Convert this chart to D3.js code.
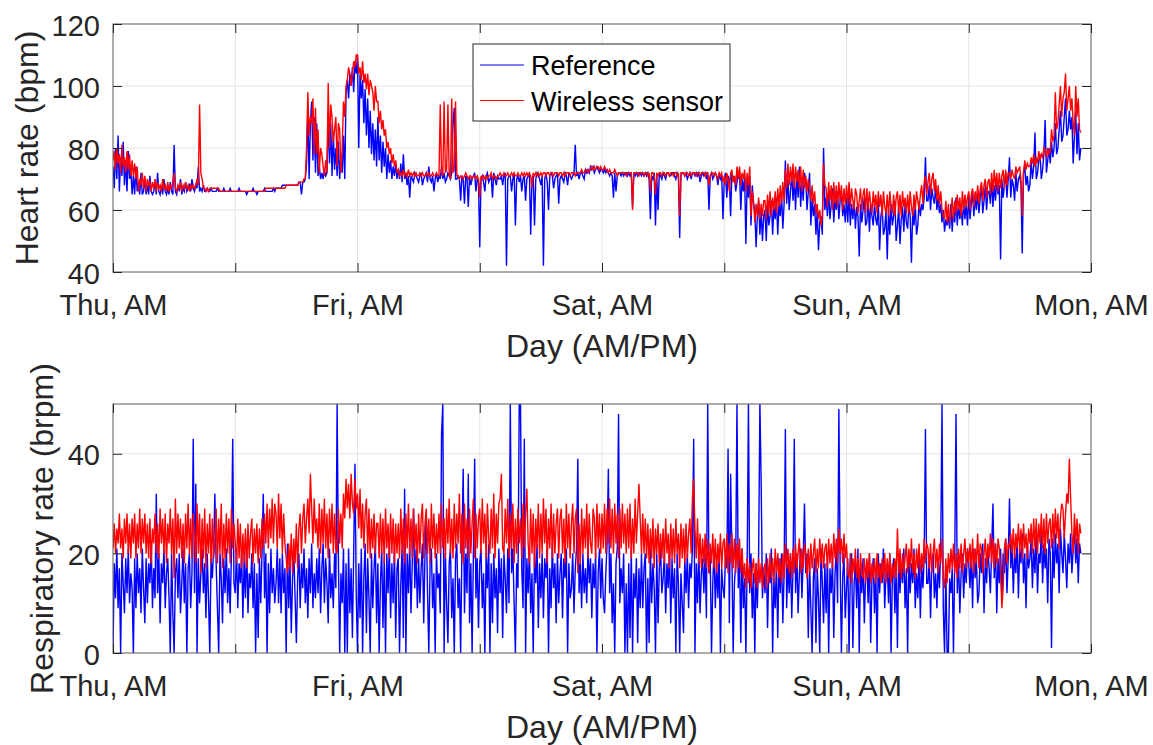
<!DOCTYPE html>
<html>
<head>
<meta charset="utf-8">
<script src="https://cdn.jsdelivr.net/npm/d3@7"></script>
<style>
  body { margin: 0; background: #fff; }
  text { font-family: "Liberation Sans", Arial, Helvetica, sans-serif; }
</style>
</head>
<body>
<div id="chart"></div>
<script>
// one sample every 7.5 min, hour 0 = Thursday 00:00, each row below = 2 hours
var sampleStep = 0.125;

// x axis ticks every 12 h, labels only on the AM ticks
var dayTicks = [0, 12, 24, 36, 48, 60, 72, 84, 96];
var dayLabels = ["Thu, AM", "", "Fri, AM", "", "Sat, AM", "", "Sun, AM", "", "Mon, AM"];

var hrTicks = [40, 60, 80, 100, 120];
var rrTicks = [0, 20, 40];

// heart rate, reference (bpm)
var hrReference = [
  74,67,80,70,84,66,77,71,82,68,76,66,79,70,73,65,
  71,65,74,66,69,65,72,65,66,70,65,68,65,71,66,65,
  66,69,65,72,66,65,68,65,70,66,65,67,65,69,66,65,
  81,66,65,68,66,70,65,67,66,69,66,67,68,66,70,67,
  66,68,67,74,66,67,66,68,66,66,67,66,66,67,66,66,
  66,66,67,66,66,66,66,67,66,66,66,66,67,66,66,66,
  66,66,66,67,66,66,66,66,66,65,66,66,66,66,67,66,
  66,65,66,66,66,66,66,67,66,66,66,66,66,66,67,66,
  67,67,67,67,67,68,68,68,68,68,68,68,68,68,68,68,
  68,68,69,69,65,69,69,70,75,92,70,88,95,76,90,72,
  88,71,74,70,72,70,73,71,72,90,75,88,71,85,73,80,
  71,82,70,78,72,84,70,98,102,96,104,100,106,98,108,104,
  110,80,104,96,102,88,99,84,96,80,92,78,88,76,86,74,
  90,76,84,72,82,74,80,70,78,72,76,70,74,71,75,70,
  73,70,75,69,78,70,72,68,71,64,71,70,69,72,71,70,
  69,71,72,68,70,71,72,69,74,70,69,71,66,70,72,69,
  71,70,74,70,72,69,70,72,71,70,72,88,93,70,70,71,
  70,63,71,70,62,71,70,61,71,68,70,71,72,66,70,69,
  48,70,71,69,66,71,72,69,70,71,64,72,70,68,71,70,
  70,71,68,71,72,42,70,71,71,66,70,72,55,70,71,69,
  71,66,70,71,63,70,71,72,52,70,71,55,70,72,71,70,
  68,71,42,70,72,69,60,71,72,71,67,70,71,72,62,70,
  71,70,69,72,71,68,72,71,70,71,72,81,71,72,70,72,
  72,71,70,73,72,73,72,74,73,74,72,73,74,73,72,73,
  73,72,73,72,73,72,71,72,71,64,72,66,71,72,72,71,
  72,71,72,72,71,72,71,72,61,72,71,72,71,72,72,71,
  72,71,72,71,72,70,57,71,70,72,55,71,60,72,71,70,
  72,71,70,72,72,71,71,72,72,71,70,72,71,51,71,72,
  72,71,72,70,71,72,70,72,72,71,72,71,72,69,71,72,
  71,72,70,72,60,71,72,70,71,72,71,68,72,70,71,57,
  70,72,64,71,70,58,72,70,71,66,69,72,72,60,70,66,
  71,49,70,64,71,55,68,62,60,48,58,63,52,60,50,58,
  60,50,62,55,58,63,52,61,57,64,52,62,58,65,54,62,
  76,62,70,60,66,72,63,70,60,72,64,74,61,70,63,72,
  70,60,66,72,55,64,58,62,52,60,47,56,58,52,80,60,
  64,58,66,57,62,67,56,64,60,66,57,63,66,58,62,56,
  64,56,66,55,62,57,63,54,61,58,45,62,56,60,64,55,
  56,64,53,62,58,55,62,57,55,63,47,58,61,52,54,60,
  44,60,52,62,55,58,63,50,55,61,49,57,61,53,62,56,
  54,62,58,43,60,55,62,52,55,63,58,62,60,64,77,63,
  63,68,60,67,64,62,68,60,64,59,62,56,60,53,57,55,
  58,54,62,53,60,56,64,55,62,57,61,55,63,57,62,55,
  65,57,62,66,58,64,60,66,59,64,68,59,63,68,60,66,
  66,62,70,61,68,63,70,65,68,44,70,64,68,72,64,70,
  77,64,70,68,63,72,66,70,71,68,46,72,74,68,71,66,
  68,76,70,74,85,70,72,76,78,70,73,78,89,72,76,80,
  75,82,77,80,88,78,80,86,92,82,84,90,96,84,86,92,
  86,90,75,84,92,78,88,76,80
];

// heart rate, wireless sensor (bpm)
var hrSensor = [
  76,79,73,80,75,78,72,81,74,77,72,79,73,78,71,76,
  71,75,70,74,66,70,68,72,67,71,66,70,68,69,66,69,
  67,70,66,69,67,68,66,70,67,68,66,69,66,68,67,69,
  72,67,66,68,67,69,66,68,67,69,67,68,66,68,67,68,
  67,68,70,68,94,72,70,67,67,66,67,66,67,67,67,67,
  67,67,67,67,66,66,66,66,66,66,66,66,66,66,66,66,
  66,66,66,66,66,66,66,66,66,66,66,66,66,66,66,66,
  66,66,66,66,66,66,66,66,67,67,67,67,67,67,67,67,
  67,67,67,67,67,67,67,67,68,68,68,68,68,68,68,68,
  68,68,69,69,69,69,70,70,80,98,84,90,88,96,78,93,
  78,86,72,80,78,74,71,76,72,101,80,94,90,82,86,90,
  74,88,86,72,80,95,90,100,102,106,104,100,104,108,106,110,
  110,104,106,102,108,101,104,99,104,97,102,100,98,92,100,95,
  95,88,92,86,89,84,86,80,82,78,80,75,78,74,76,72,
  73,71,72,71,73,71,72,71,73,71,72,71,72,71,72,71,
  71,72,71,72,71,71,72,71,72,71,71,72,71,71,72,71,
  71,94,72,71,95,72,73,94,71,70,96,72,73,95,71,71,
  70,71,71,70,71,72,71,70,71,71,70,71,71,70,71,70,
  64,71,70,71,70,71,70,71,71,72,70,71,71,70,71,71,
  72,71,71,72,71,71,72,71,71,72,71,72,71,71,72,71,
  71,72,71,72,71,72,71,72,71,67,72,71,72,71,72,71,
  72,71,72,72,71,72,72,71,72,72,71,72,72,72,71,72,
  72,71,72,71,72,72,72,71,72,72,72,71,72,72,72,72,
  73,72,72,73,73,72,73,73,74,73,74,73,74,74,73,74,
  73,73,74,73,73,72,73,72,72,72,73,72,71,72,72,72,
  72,72,72,71,72,72,72,72,60,72,72,72,72,71,72,72,
  72,71,72,72,71,72,66,72,72,71,65,72,71,72,72,71,
  72,72,71,72,72,71,72,72,71,72,72,71,72,58,72,72,
  72,71,72,72,71,72,71,72,72,72,71,72,72,71,72,72,
  72,71,72,72,68,71,72,72,71,72,71,70,72,71,72,69,
  71,68,72,70,66,72,73,69,71,68,74,70,74,68,72,70,
  73,66,72,68,74,58,66,63,56,62,58,64,57,62,58,63,
  63,57,65,59,66,58,64,60,66,59,67,61,68,62,69,63,
  73,67,75,68,74,69,75,67,74,69,73,67,74,66,73,67,
  71,66,70,67,63,68,62,66,59,62,57,60,55,58,75,68,
  67,61,69,63,68,60,69,62,68,61,69,63,68,60,67,62,
  68,62,69,61,67,63,60,67,65,59,63,67,60,65,67,59,
  67,60,66,62,59,66,61,65,59,66,61,65,58,66,61,59,
  65,58,66,61,59,65,58,64,66,59,65,58,66,61,64,59,
  65,59,66,61,58,65,60,66,63,60,65,68,62,69,71,65,
  69,72,65,70,72,66,70,63,68,62,66,60,58,57,63,56,
  62,56,59,64,57,63,59,65,60,64,58,66,60,65,61,64,
  66,60,65,67,61,66,63,68,62,67,69,63,68,70,64,69,
  70,65,72,66,73,67,72,66,72,67,71,73,67,73,68,72,
  72,70,73,71,70,74,72,73,74,70,58,72,76,73,75,74,
  74,77,75,78,74,77,75,79,76,78,77,80,79,77,80,78,
  79,86,82,84,98,86,88,94,100,90,96,98,104,92,96,100,
  92,96,88,84,100,90,96,86,85
];

// respiratory rate, reference (brpm)
var rrReference = [
  0,18,11,21,9,17,0,20,14,8,19,12,21,10,16,13,
  0,19,9,20,12,17,8,21,13,6,19,10,18,14,22,9,
  17,11,32,12,20,6,18,14,21,9,16,19,11,0,20,8,
  0,16,19,11,20,8,14,21,10,18,0,17,20,9,16,43,
  12,34,0,19,10,16,21,12,18,7,20,11,0,19,15,21,
  32,18,9,0,20,15,6,19,12,21,10,17,8,20,43,14,
  12,21,9,18,14,20,7,19,11,22,8,16,13,20,9,18,
  0,16,3,19,10,20,32,11,20,0,18,8,21,12,17,10,
  14,21,10,19,8,20,12,17,0,22,9,18,4,15,20,11,
  2,15,20,9,18,13,21,10,17,7,19,12,22,9,16,11,
  19,12,21,8,17,22,10,19,14,6,21,11,16,9,20,13,
  50,19,0,16,10,21,0,18,0,21,8,17,3,20,38,12,
  0,18,7,21,0,15,22,4,19,11,0,20,9,17,22,6,
  18,0,14,21,5,19,0,20,12,22,7,18,10,21,3,17,
  19,0,14,21,3,33,0,20,12,22,8,18,29,13,21,9,
  19,10,17,22,6,20,28,12,0,18,21,9,16,0,20,13,
  16,8,44,50,0,20,10,2,18,21,7,15,0,19,22,9,
  15,0,21,37,8,20,12,36,6,18,0,20,39,11,19,5,
  18,21,9,16,0,20,13,22,0,18,6,20,11,17,4,21,
  12,19,3,20,15,8,21,10,50,16,21,10,0,18,13,50,
  50,17,9,43,0,19,12,21,8,16,0,20,14,22,5,18,
  11,20,7,19,15,21,0,17,9,22,13,18,6,20,10,16,
  20,7,19,15,21,0,18,11,13,20,8,17,21,39,12,18,
  9,20,12,17,10,21,14,19,7,18,13,20,0,16,21,11,
  19,11,8,16,22,37,12,20,6,14,0,18,21,48,10,17,
  12,20,0,14,0,18,3,21,0,16,11,19,2,17,9,20,
  9,17,20,0,15,2,21,10,18,13,0,20,6,17,21,12,
  15,20,8,18,13,21,6,19,11,17,0,20,14,0,16,10,
  4,19,12,20,9,18,15,21,43,0,18,10,21,8,16,19,
  12,20,7,50,16,19,0,14,21,9,18,11,20,0,17,13,
  11,20,17,41,6,36,20,0,14,18,50,13,19,2,21,9,
  15,0,18,50,12,20,7,16,0,18,9,20,50,34,11,17,
  12,20,5,17,14,21,0,15,9,18,3,19,12,20,6,16,
  45,9,18,12,20,7,17,43,12,20,8,16,21,11,19,30,
  16,20,3,18,9,0,15,19,2,17,11,0,21,14,6,18,
  8,20,0,17,12,19,3,16,21,10,49,18,0,15,20,7,
  13,19,0,16,20,1,14,18,9,21,0,17,12,19,6,16,
  18,10,20,2,15,19,8,17,0,20,12,18,14,21,9,16,
  18,10,20,0,15,19,8,17,1,20,12,18,14,21,9,17,
  0,19,12,18,14,21,9,16,11,20,7,18,13,19,45,14,
  14,19,7,18,20,11,16,9,19,13,21,50,9,0,17,0,
  0,15,12,17,0,19,48,12,19,8,16,20,11,18,14,21,
  18,13,20,9,21,15,19,10,12,20,16,22,8,19,14,21,
  17,12,21,30,15,22,8,19,14,21,11,20,16,23,12,19,
  31,17,22,12,20,16,23,11,21,18,24,14,20,9,22,17,
  19,23,13,21,16,24,12,20,18,25,14,22,17,21,10,23,
  20,1,23,15,24,18,22,12,25,20,16,24,19,13,22,18,
  24,16,21,25,18,23,14,22,20
];

// respiratory rate, wireless sensor (brpm)
var rrSensor = [
  21,26,20,25,22,28,21,25,19,27,22,28,20,26,19,27,
  22,28,19,26,21,29,20,27,22,28,20,26,19,27,18,25,
  22,28,20,26,19,29,22,27,20,28,18,26,22,29,20,27,
  15,31,20,28,21,27,19,26,18,28,21,30,20,27,19,28,
  24,18,30,20,28,16,27,19,29,17,26,20,28,18,27,19,
  22,29,18,27,20,30,17,26,19,28,20,27,18,29,21,26,
  22,18,27,19,26,17,24,18,25,17,26,19,24,27,18,25,
  20,26,18,25,19,27,21,28,22,30,21,29,23,31,22,30,
  28,21,32,23,30,20,28,22,19,16,22,17,24,16,23,18,
  26,17,25,28,20,27,30,22,27,31,24,36,29,22,31,24,
  27,21,30,20,29,22,31,21,28,19,29,22,30,20,28,21,
  20,29,22,28,21,32,27,35,29,34,27,36,30,28,35,29,
  32,25,33,23,30,21,28,31,20,29,19,27,21,28,20,26,
  26,19,28,20,27,18,29,21,26,19,28,20,27,18,26,20,
  26,19,29,20,27,18,28,21,30,20,27,19,29,21,26,18,
  28,20,27,30,19,26,29,20,27,18,30,21,28,19,26,20,
  28,20,30,21,27,19,29,22,31,20,27,19,30,21,28,22,
  32,20,28,18,30,21,27,19,29,20,26,31,19,28,21,27,
  29,20,31,22,28,19,30,23,20,29,21,32,19,28,22,30,
  31,36,21,20,29,22,31,19,28,21,30,18,27,20,29,22,
  27,19,30,21,28,33,22,18,29,20,28,17,27,21,30,19,
  28,20,31,22,29,18,27,21,30,19,28,20,26,29,19,27,
  29,20,27,18,30,21,28,19,26,30,20,27,29,16,26,18,
  29,20,27,21,30,19,28,22,20,29,27,19,30,21,28,20,
  28,21,30,20,29,22,31,21,29,20,30,22,28,19,29,21,
  30,22,28,20,29,21,30,19,27,20,31,22,28,34,27,20,
  28,20,27,19,26,18,25,19,27,17,25,20,26,18,24,19,
  25,18,27,20,24,17,26,19,25,18,27,20,24,17,26,19,
  25,18,26,19,24,27,20,31,35,25,19,27,18,24,17,23,
  18,24,17,23,16,22,18,24,17,23,16,22,18,24,17,22,
  23,17,24,16,22,18,24,17,23,16,22,17,23,16,21,15,
  18,13,19,14,18,13,17,19,14,18,13,19,14,18,13,17,
  18,13,19,14,20,15,19,14,21,16,20,15,19,14,20,15,
  22,17,21,16,20,15,21,16,22,17,20,23,16,21,17,22,
  20,15,21,16,22,17,20,23,16,21,17,23,18,22,17,21,
  22,17,23,18,22,17,24,19,23,18,25,20,23,18,24,19,
  22,16,15,20,14,19,16,21,15,19,14,20,16,15,19,14,
  19,15,20,14,18,15,19,14,20,15,18,14,19,15,20,14,
  19,15,20,14,18,15,19,15,25,16,21,15,20,16,19,22,
  16,21,17,23,16,20,15,21,17,22,16,20,17,23,18,22,
  21,17,22,16,20,23,17,21,16,22,18,23,15,13,19,14,
  20,16,21,17,22,16,20,15,21,17,22,16,20,23,17,21,
  18,22,17,23,16,21,18,24,17,22,21,16,20,23,17,22,
  19,24,18,23,17,22,18,23,21,16,9,13,21,23,18,22,
  21,24,20,25,19,24,21,26,20,25,19,26,21,24,19,25,
  22,26,20,27,21,27,20,26,22,28,21,27,20,28,22,26,
  27,21,28,22,29,23,28,21,27,30,29,23,28,32,30,39,
  31,24,20,28,22,27,20,26,24
];

var width = 1153, height = 745;
var plotLeft = 113, plotRight = 1091;
var axisColor = "#262626";

var svg = d3.select("#chart")
  .append("svg")
    .attr("width", width)
    .attr("height", height);

var x = d3.scaleLinear()
  .domain([0, 96])
  .range([plotLeft, plotRight]);

function drawPanel(id, top, bottom, yDomain, yTicks, refData, sensorData, yLabel, yLabelX) {
  var y = d3.scaleLinear()
    .domain(yDomain)
    .range([bottom, top]);

  var g = svg.append("g");

  // grid
  g.append("g")
    .selectAll("line")
    .data(dayTicks.slice(1, -1))
    .enter()
    .append("line")
      .attr("x1", d => x(d)).attr("x2", d => x(d))
      .attr("y1", top).attr("y2", bottom)
      .attr("stroke", "#e3e3e3");
  g.append("g")
    .selectAll("line")
    .data(yTicks.filter(d => d > yDomain[0] && d < yDomain[1]))
    .enter()
    .append("line")
      .attr("x1", plotLeft).attr("x2", plotRight)
      .attr("y1", d => y(d)).attr("y2", d => y(d))
      .attr("stroke", "#e3e3e3");

  // clip the traces to the plot box
  svg.append("clipPath")
    .attr("id", "clip-" + id)
    .append("rect")
      .attr("x", plotLeft).attr("y", top)
      .attr("width", plotRight - plotLeft).attr("height", bottom - top);

  var line = d3.line()
    .x((d, i) => x(i * sampleStep))
    .y(d => y(d));

  var traces = g.append("g").attr("clip-path", "url(#clip-" + id + ")");
  traces.append("path")
    .datum(refData)
    .attr("d", line)
    .attr("fill", "none")
    .attr("stroke", "#0000ff")
    .attr("stroke-width", 1.4);
  traces.append("path")
    .datum(sensorData)
    .attr("d", line)
    .attr("fill", "none")
    .attr("stroke", "#ff0000")
    .attr("stroke-width", 1.4);

  // box
  g.append("rect")
    .attr("x", plotLeft).attr("y", top)
    .attr("width", plotRight - plotLeft).attr("height", bottom - top)
    .attr("fill", "none")
    .attr("stroke", "#5a5a5a")
    .attr("stroke-width", 1);

  // axes, ticks pointing inwards like the matlab default
  g.append("g")
    .attr("transform", "translate(0," + bottom + ")")
    .call(d3.axisBottom(x)
      .tickValues(dayTicks)
      .tickFormat((d, i) => dayLabels[i])
      .tickSizeInner(-9).tickSizeOuter(0).tickPadding(22));
  g.append("g")
    .attr("transform", "translate(0," + top + ")")
    .call(d3.axisTop(x)
      .tickValues(dayTicks).tickFormat("")
      .tickSizeInner(-9).tickSizeOuter(0));
  var yl = g.append("g")
    .attr("transform", "translate(" + plotLeft + ",0)")
    .call(d3.axisLeft(y)
      .tickValues(yTicks)
      .tickSizeInner(-9).tickSizeOuter(0).tickPadding(13));
  g.append("g")
    .attr("transform", "translate(" + plotRight + ",0)")
    .call(d3.axisRight(y)
      .tickValues(yTicks).tickFormat("")
      .tickSizeInner(-9).tickSizeOuter(0));

  g.selectAll(".domain").remove();
  g.selectAll(".tick line").attr("stroke", axisColor);
  g.selectAll(".tick text")
    .attr("fill", axisColor)
    .attr("font-size", 29)
    .attr("font-family", "'Liberation Sans', Arial, Helvetica, sans-serif");
  yl.selectAll(".tick text").attr("dy", "0.38em");

  // axis labels
  g.append("text")
    .attr("x", (plotLeft + plotRight) / 2)
    .attr("y", bottom + 85)
    .attr("text-anchor", "middle")
    .attr("font-size", 32)
    .attr("fill", axisColor)
    .text("Day (AM/PM)");

  g.append("text")
    .attr("transform", "translate(" + yLabelX + "," + (top + bottom) / 2 + ") rotate(-90)")
    .attr("text-anchor", "middle")
    .attr("font-size", 32)
    .attr("fill", axisColor)
    .text(yLabel);
}

drawPanel("hr", 24, 272, [40, 120], hrTicks, hrReference, hrSensor, "Heart rate (bpm)", 38);
drawPanel("rr", 404, 653, [0, 50], rrTicks, rrReference, rrSensor, "Respiratory rate (brpm)", 53);

// legend on the heart rate panel
var legendItems = [
  {name: "Reference", color: "#0000ff"},
  {name: "Wireless sensor", color: "#ff0000"}
];
var legend = svg.append("g");
legend.append("rect")
  .attr("x", 473).attr("y", 44)
  .attr("width", 257).attr("height", 77)
  .attr("fill", "#fff")
  .attr("stroke", axisColor)
  .attr("stroke-width", 1);
var item = legend.selectAll(".item")
  .data(legendItems)
  .enter()
  .append("g")
    .attr("transform", (d, i) => "translate(0," + (65 + i * 35.5) + ")");
item.append("line")
  .attr("x1", 480).attr("x2", 524)
  .attr("stroke", d => d.color)
  .attr("stroke-width", 1);
item.append("text")
  .attr("x", 531)
  .attr("y", 10)
  .attr("font-size", 27)
  .attr("fill", "#000")
  .text(d => d.name);
</script>
</body>
</html>
